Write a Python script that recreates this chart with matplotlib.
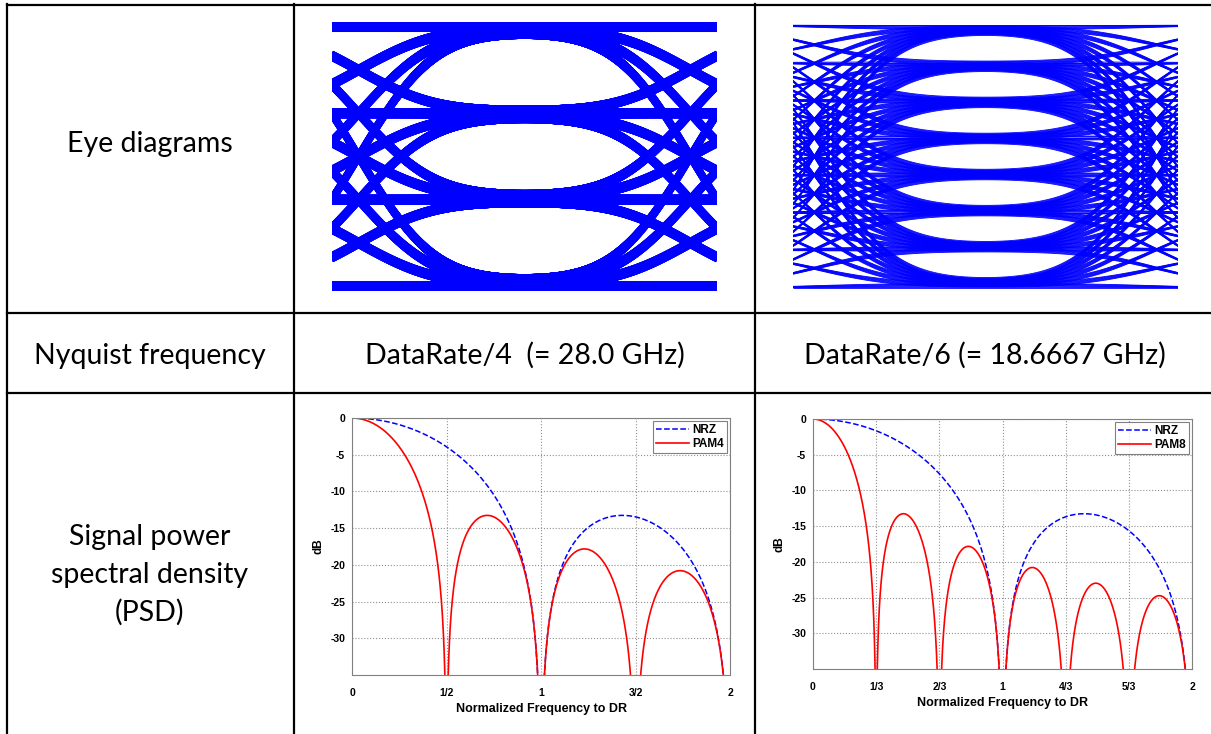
import math
import itertools
import numpy as np
import matplotlib
matplotlib.use('Agg')
import matplotlib.pyplot as plt
from matplotlib.collections import LineCollection
from matplotlib.lines import Line2D

# table text
row_labels = ['Eye diagrams', 'Nyquist frequency', 'Signal power\nspectral density\n(PSD)']
nyquist_labels = ['DataRate/4  (= 28.0 GHz)', 'DataRate/6 (= 18.6667 GHz)']

# eye diagram symbol levels
pam4_levels = [-3, -1, 1, 3]
pam8_levels = [-7, -5, -3, -1, 1, 3, 5, 7]

# PSD panels: modulation names and bits per symbol
psd_names_left = ['NRZ', 'PAM4']
psd_bits_left = [1, 2]
psd_names_right = ['NRZ', 'PAM8']
psd_bits_right = [1, 3]
freq_ticks_left = [0, 1 / 2, 1, 3 / 2, 2]
freq_labels_left = ['0', '1/2', '1', '3/2', '2']
freq_ticks_right = [0, 1 / 3, 2 / 3, 1, 4 / 3, 5 / 3, 2]
freq_labels_right = ['0', '1/3', '2/3', '1', '4/3', '5/3', '2']
db_ticks = [0, -5, -10, -15, -20, -25, -30]

W, H = 1211, 734
fig = plt.figure(figsize=(W / 100, H / 100), dpi=100)


def px_rect(x0, y0, x1, y1):
    return [x0 / W, 1 - y1 / H, (x1 - x0) / W, (y1 - y0) / H]


# table grid
def hline(y, x0=7, x1=W):
    fig.add_artist(Line2D([x0 / W, x1 / W], [1 - y / H, 1 - y / H], color='black', lw=1.6))


def vline(x, y0=4, y1=H):
    fig.add_artist(Line2D([x / W, x / W], [1 - y0 / H, 1 - y1 / H], color='black', lw=1.6))


for y in [5, 313, 393]:
    hline(y)
for x in [7, 294, 755]:
    vline(x)

tfont = dict(family='Lato', fontsize=20.5, ha='center', va='baseline')
fig.text(150 / W, 1 - 152 / H, row_labels[0], **tfont)
fig.text(150 / W, 1 - 364 / H, row_labels[1], **tfont)
for i, line in enumerate(row_labels[2].split('\n')):
    fig.text(150 / W, 1 - (545 + 38 * i) / H, line, **tfont)
fig.text(525 / W, 1 - 364 / H, nyquist_labels[0], **tfont)
fig.text(985 / W, 1 - 364 / H, nyquist_labels[1], **tfont)

# eye diagrams
erf = np.vectorize(math.erf)


def edge(t, sigma):
    s = sigma * np.sqrt(2)
    return 0.5 * (erf((t + 0.5) / s) - erf((t - 0.5) / s))


def pulse(t, sigma, isi):
    return (edge(t, sigma) + isi * (edge(t - 1, sigma) + edge(t + 1, sigma))) / (1 + 2 * isi)


def eye_segments(levels, span, sigma, isi, full_reach):
    t = np.linspace(-span, span, 160)
    pulses = np.array([pulse(t - k, sigma, isi) for k in range(-2, 3)])
    if full_reach:
        combos = np.array(list(itertools.product(levels, repeat=5)), dtype=float)
    else:
        # outer symbols repeat their neighbours
        c3 = np.array(list(itertools.product(levels, repeat=3)), dtype=float)
        combos = np.column_stack([c3[:, 0], c3, c3[:, 2]])
    ys = combos @ pulses
    ts = np.broadcast_to(t, ys.shape)
    return np.stack([ts, ys], axis=-1), max(levels)


def draw_eye(rect, levels, span, sigma, isi, full_reach, lw):
    ax = fig.add_axes(rect)
    segs, top = eye_segments(levels, span, sigma, isi, full_reach)
    ax.add_collection(LineCollection(segs, colors='#0000ff', linewidths=lw))
    ax.set_xlim(-span, span)
    ax.set_ylim(-top * 1.015, top * 1.015)
    ax.axis('off')


draw_eye(px_rect(332, 22, 717, 291), pam4_levels, 0.58, 0.18, 0.022, True, 3.5)
draw_eye(px_rect(793, 23, 1178, 290), pam8_levels, 0.56, 0.18, 0.018, False, 0.6)


# PSD plots
def draw_psd(rect, names, bits, ticks, labels):
    ax = fig.add_axes(rect)
    f = np.linspace(0, 2, 4001)
    styles = [dict(color='blue', ls='--', lw=1.1), dict(color='red', ls='-', lw=1.2)]
    for name, b, st in zip(names, bits, styles):
        psd = 20 * np.log10(np.maximum(np.abs(np.sinc(b * f)), 1e-9))
        ax.plot(f, psd, label=name, **st)
    ax.set_xlim(0, 2)
    ax.set_ylim(-35, 0)
    ax.set_xticks(ticks)
    ax.set_xticklabels(labels)
    ax.set_yticks(db_ticks)
    ax.set_yticklabels([str(v) for v in db_ticks])
    ax.grid(True, color='#909090', ls=':', lw=0.8)
    ax.tick_params(axis='x', length=0, pad=9, labelsize=7.5)
    ax.tick_params(axis='y', length=0, pad=5, labelsize=7.5)
    for lab in ax.get_xticklabels() + ax.get_yticklabels():
        lab.set_fontweight('bold')
        lab.set_family('Liberation Sans')
    for sp in ax.spines.values():
        sp.set_color('#808080')
    ax.set_xlabel('Normalized Frequency to DR', fontsize=9, fontweight='bold',
                  family='Liberation Sans', labelpad=4)
    ax.set_ylabel('dB', fontsize=8.5, fontweight='bold', family='Liberation Sans', labelpad=4)
    leg = ax.legend(loc='upper right', prop=dict(family='Liberation Sans', weight='bold', size=8.5),
                    fancybox=False, edgecolor='#606060', handlelength=2.8, borderpad=0.25,
                    labelspacing=0.15, handletextpad=0.3, borderaxespad=0.25)
    leg.get_frame().set_linewidth(0.8)


draw_psd(px_rect(352, 418, 730, 675), psd_names_left, psd_bits_left, freq_ticks_left, freq_labels_left)
draw_psd(px_rect(813, 419, 1192, 669), psd_names_right, psd_bits_right, freq_ticks_right, freq_labels_right)

fig.savefig('out.png', dpi=100)
